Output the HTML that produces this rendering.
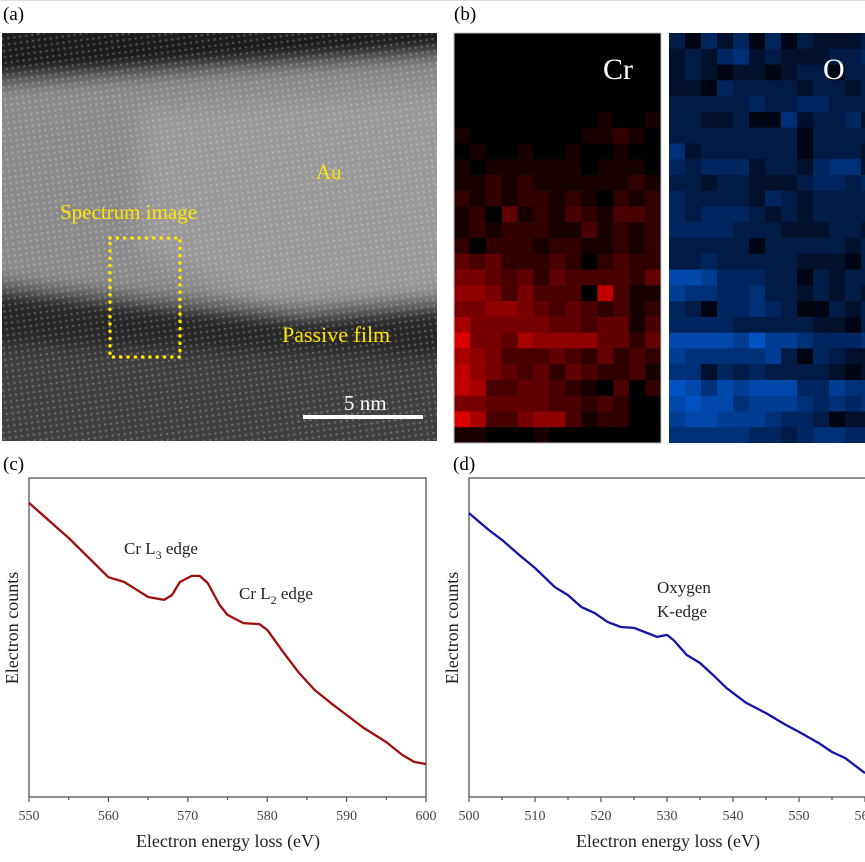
<!DOCTYPE html>
<html><head><meta charset="utf-8"><style>
html,body{margin:0;padding:0;background:#fff;}
body{width:865px;height:862px;overflow:hidden;position:relative;font-family:"Liberation Serif",serif;}
svg{position:absolute;left:0;top:0;}
</style></head><body>
<svg id="fig" width="865" height="862" viewBox="0 0 865 862" xmlns="http://www.w3.org/2000/svg">
<defs>
<pattern id="atoms" width="6" height="6" patternUnits="userSpaceOnUse" patternTransform="rotate(-8)">
<circle cx="3" cy="3" r="1.3" fill="#fff" fill-opacity="0.22"/>
</pattern>
<filter id="blur" x="-10%" y="-10%" width="120%" height="120%"><feGaussianBlur stdDeviation="9"/></filter>
<clipPath id="clipA"><rect x="2" y="33" width="435" height="408"/></clipPath>
<clipPath id="clipO"><rect x="669" y="33" width="196" height="410"/></clipPath>
</defs>
<line x1="0" y1="0.5" x2="865" y2="0.5" stroke="#ddd"/>

<!-- panel a -->
<text x="3" y="20" font-size="19">(a)</text>
<g clip-path="url(#clipA)">
<rect x="2" y="33" width="435" height="408" fill="#444"/>
<g filter="url(#blur)">
<polygon points="-20,20 460,20 460,55 -20,80" fill="#1a1a1a"/>
<polygon points="-20,85 460,55 460,300 300,312 -20,282" fill="#8a8a8a"/>
<polygon points="140,110 460,90 460,290 260,300 140,250" fill="#a5a5a5" opacity="0.6"/>
<polygon points="-20,290 300,318 460,305 460,360 -20,345" fill="#262626"/>
<polygon points="-20,350 460,362 460,460 -20,460" fill="#404040"/>
</g>
<rect x="2" y="33" width="435" height="408" fill="url(#atoms)"/>
</g>
<rect x="110" y="238" width="70" height="119" fill="none" stroke="#ffe600" stroke-width="3.5" stroke-dasharray="0.1 7.2" stroke-linecap="round"/>
<text x="60" y="219" font-size="21" fill="#ffe600">Spectrum image</text>
<text x="316" y="179" font-size="21" fill="#ffe600">Au</text>
<text x="282" y="342" font-size="22" fill="#ffe600">Passive film</text>
<text x="344" y="410" font-size="21" fill="#fff">5 nm</text>
<rect x="303" y="415" width="120" height="4" fill="#fff"/>

<!-- panel b -->
<text x="454" y="20" font-size="19">(b)</text>
<g id="crMap"></g>
<g id="oMap" clip-path="url(#clipO)"></g>
<text x="603" y="79" font-size="30" fill="#fff">Cr</text>
<text x="823" y="79" font-size="30" fill="#fff">O</text>

<!-- panel c -->
<text x="3" y="470" font-size="19">(c)</text>
<g id="chartC"></g>
<!-- panel d -->
<text x="453" y="470" font-size="19">(d)</text>
<g id="chartD"></g>
</svg>
<script>
const NS="http://www.w3.org/2000/svg";
// heatmap data (intensity 0-9), one string per row
const crRows=["0000000000000","0000000000000","0000000000000","0000000000000","0000000000000","0000000001001","1000000011210","0100100100100","1011111101110","1121211111121","2121221210212","1204121321332","1212221131212","2022212211212","4342223202322","5543424333324","6653533308311","5566543432312","7555554434413","9554766664424","7653334324232","8654342432231","8733443210302","5544443323200","9733566312200","1100010000000"];
const oRows=["2031303021112","1213412111223","1210110122022","1103222212212","2222232233222","2211200412231","2222222202222","4122222202221","3233312213441","2212211123323","3222213212222","3233321212222","3333222111221","2222202222212","2232222211102","6653332202122","5443342212121","3203343200212","3333222221102","6666575543334","5444445203211","4413232222101","7646566633544","6766455543434","5665554332011","4444433234433"];
// spectra
const crEnergy=[550,555,560,562,565,567,568,569,570.5,571.5,572.5,574,575,577,579,580,582,584,586,588,590,592,595,597,598.5,600];
const crCounts=[92.2,81.2,68.9,67.4,62.7,61.8,63.3,67.4,69.3,69.3,67.1,60.2,57.1,54.5,54.2,52.4,45.5,38.9,33.5,29.5,25.7,21.9,17.2,13.2,11.0,10.3];
const crTicks=[550,560,570,580,590,600];
const oEnergy=[500,503,505,508,510,513,515,517,519,521,523,525,527,528.5,530,531,533,535,537,539,542,545,548,550,553,555,557,560];
const oCounts=[89.0,83.7,80.6,75.2,71.8,65.8,63.3,59.6,57.7,54.9,53.3,53.0,51.4,50.2,50.8,49.2,44.5,42.0,38.2,34.2,29.5,26.3,22.6,20.4,16.9,14.1,12.2,7.5];
const oTicks=[500,510,520,530,540,550,560];

function mk(tag,attrs,parent){const e=document.createElementNS(NS,tag);for(const k in attrs)e.setAttribute(k,attrs[k]);parent.appendChild(e);return e;}

function heat(g,rows,x0,y0,cw,ch,col){
  rows.forEach((r,i)=>{for(let j=0;j<r.length;j++){const v=+r[j];
    const c=mk('rect',{x:x0+j*cw,y:y0+i*ch,width:cw+0.5,height:ch+0.5,fill:col(v)},g);
    
    }});
}
heat(document.getElementById('crMap'),crRows,454,33,207/13,410/26,v=>`rgb(${v*24},0,0)`);
heat(document.getElementById('oMap'),oRows,669,33,16,410/26,v=>`rgb(0,${v*11+5},${v*25+20})`);
mk('rect',{x:454,y:33,width:207,height:410,fill:'none',stroke:'#bbb','stroke-width':1},document.getElementById('crMap'));

function chart(g,xs,ys,ticks,xmin,xmax,L,R,plotR,color,minorStep){
  const T=478,B=797;
  const sx=v=>L+(v-xmin)/(xmax-xmin)*(R-L);
  const sy=v=>B-v/100*(B-T);
  const f=mk('rect',{x:L,y:T,width:plotR-L,height:B-T,fill:'none',stroke:'#555','stroke-width':1.3},g);
  
  
  for(let v=xmin;v<=xmax+0.01;v+=minorStep){const x=sx(v);if(x>plotR+1)break;
    const major=ticks.includes(v);
    const t=mk('line',{x1:x,y1:B,x2:x,y2:B+(major?5:3),stroke:'#555','stroke-width':1.2},g);
    
    }
  ticks.forEach(v=>{const tl=mk('text',{x:sx(v),y:820,'font-size':14,'text-anchor':'middle',fill:'#444'},g);tl.textContent=v;
    
    });
  const d=xs.map((v,i)=>(i?'L':'M')+sx(v).toFixed(1)+','+sy(ys[i]).toFixed(1)).join(' ');
  const p=mk('path',{d:d,fill:'none',stroke:color,'stroke-width':2.3,'stroke-linejoin':'round'},g);
  
  
  const xt=mk('text',{x:L+199,y:847,'font-size':18,'text-anchor':'middle',fill:'#222'},g);xt.textContent='Electron energy loss (eV)';
  
  
  const yt=mk('text',{x:0,y:0,'font-size':18,'text-anchor':'middle',fill:'#222',transform:`translate(${L-11},628) rotate(-90)`},g);yt.textContent='Electron counts';
  
  
}
const gc=document.getElementById('chartC');
chart(gc,crEnergy,crCounts,crTicks,550,600,29,426,426,'#a00d0d',5);
const gd=document.getElementById('chartD');
chart(gd,oEnergy,oCounts,oTicks,500,560,469,865,866,'#1313a8',5);

function label(g,x,y,html,name){const t=mk('text',{x:x,y:y,'font-size':17,fill:'#222'},g);t.innerHTML=html;
  
  }
label(gc,124,554,'Cr L<tspan font-size="12" dy="5">3</tspan><tspan dy="-5"> edge</tspan>','cr-l3-annotation');
label(gc,239,599,'Cr L<tspan font-size="12" dy="5">2</tspan><tspan dy="-5"> edge</tspan>','cr-l2-annotation');
label(gd,657,593,'Oxygen','oxygen-annotation');
label(gd,657,617,'K-edge','k-edge-annotation');
</script>
</body></html>
